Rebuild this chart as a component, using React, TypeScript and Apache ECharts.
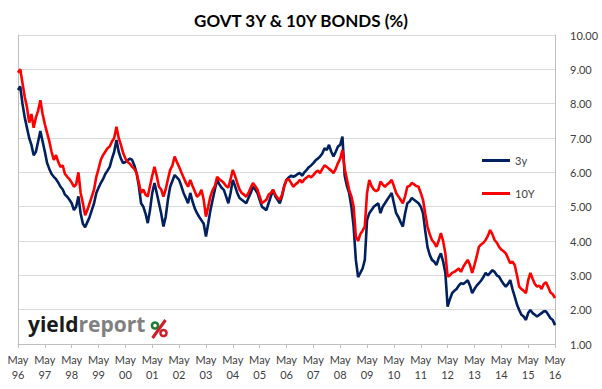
import React, { useEffect, useRef } from "react";
import * as echarts from "echarts";

// Monthly readings, May 1996 .. May 2016 (241 points)
const years = ["96","97","98","99","00","01","02","03","04","05","06","07","08","09","10","11","12","13","14","15","16"];
const monthNames = ["May","Jun","Jul","Aug","Sep","Oct","Nov","Dec","Jan","Feb","Mar","Apr"];

const tenYear: number[] = [
  // May96-Apr97
  8.9, 9.0, 8.6, 8.2, 7.9, 7.45, 7.7, 7.3, 7.6, 7.8, 8.1, 7.7,
  // 97-98
  7.4, 7.15, 6.9, 6.6, 6.36, 6.5, 6.3, 6.16, 6.2, 5.95, 5.87, 5.8,
  // 98-99
  5.7, 5.58, 5.65, 6.0, 5.4, 5.1, 4.75, 4.9, 5.1, 5.3, 5.5, 5.87,
  // 99-00
  6.1, 6.36, 6.5, 6.6, 6.7, 6.75, 6.9, 7.0, 7.33, 7.0, 6.8, 6.56,
  // 00-01
  6.4, 6.3, 6.25, 6.16, 6.1, 5.98, 5.7, 5.4, 5.5, 5.35, 5.3, 5.6,
  // 01-02
  5.9, 6.16, 5.9, 5.58, 5.5, 5.29, 5.5, 5.8, 6.07, 6.2, 6.46, 6.3,
  // 02-03
  6.16, 6.0, 5.85, 5.7, 5.58, 5.78, 5.6, 5.45, 5.29, 5.35, 5.49, 5.2,
  // 03-04
  4.71, 5.0, 5.3, 5.49, 5.6, 5.87, 5.8, 5.75, 5.69, 5.6, 5.55, 5.8,
  // 04-05
  6.07, 5.9, 5.69, 5.5, 5.4, 5.35, 5.29, 5.4, 5.55, 5.69, 5.6, 5.5,
  // 05-06
  5.3, 5.1, 5.15, 5.2, 5.35, 5.4, 5.49, 5.35, 5.25, 5.2, 5.35, 5.6,
  // 06-07
  5.78, 5.8, 5.7, 5.58, 5.65, 5.7, 5.78, 5.7, 5.8, 5.85, 5.9, 5.85,
  // 07-08
  5.92, 6.0, 6.05, 5.98, 6.1, 6.2, 6.16, 6.1, 6.05, 5.98, 6.1, 6.27,
  // 08-09
  6.4, 6.65, 6.1, 5.8, 5.49, 5.3, 5.0, 4.13, 4.0, 4.2, 4.3, 4.42,
  // 09-10
  5.4, 5.78, 5.6, 5.5, 5.45, 5.49, 5.73, 5.65, 5.58, 5.65, 5.7, 5.78,
  // 10-11
  5.6, 5.4, 5.3, 5.2, 5.1, 5.3, 5.58, 5.6, 5.69, 5.65, 5.6, 5.58,
  // 11-12
  5.4, 5.2, 4.8, 4.42, 4.2, 4.03, 3.95, 3.83, 4.0, 4.23, 4.0, 3.64,
  // 12-13
  2.96, 3.0, 3.07, 3.1, 3.15, 3.2, 3.1, 3.25, 3.35, 3.45, 3.3, 3.07,
  // 13-14
  3.3, 3.55, 3.83, 3.9, 3.95, 4.03, 4.15, 4.32, 4.2, 4.03, 3.95, 3.83,
  // 14-15
  3.75, 3.7, 3.64, 3.5, 3.35, 3.4, 3.3, 3.0, 2.67, 2.6, 2.55, 2.48,
  // 15-16
  2.85, 3.07, 2.9, 2.75, 2.67, 2.7, 2.6, 2.75, 2.8, 2.65, 2.5, 2.45, 2.34,
];

const threeYear: number[] = [
  8.4, 8.5, 8.0, 7.6, 7.3, 7.0, 6.8, 6.5, 6.6, 6.9, 7.2, 6.9,
  6.6, 6.27, 6.1, 5.95, 5.87, 5.8, 5.7, 5.58, 5.5, 5.35, 5.29, 5.2,
  5.1, 4.9, 5.0, 5.3, 4.8, 4.5, 4.4, 4.55, 4.7, 4.9, 5.1, 5.4,
  5.55, 5.69, 5.8, 5.95, 6.05, 6.16, 6.4, 6.6, 6.94, 6.6, 6.4, 6.27,
  6.3, 6.35, 6.4, 6.36, 6.2, 5.98, 5.6, 5.1, 5.0, 4.8, 4.52, 4.9,
  5.4, 5.69, 5.4, 5.1, 4.8, 4.42, 4.7, 5.2, 5.58, 5.75, 5.92, 5.85,
  5.78, 5.6, 5.4, 5.25, 5.1, 5.4, 5.15, 4.95, 4.81, 4.7, 4.6, 4.5,
  4.13, 4.5, 4.9, 5.2, 5.5, 5.78, 5.65, 5.55, 5.49, 5.3, 5.1, 5.4,
  5.78, 5.6, 5.4, 5.25, 5.2, 5.15, 5.1, 5.25, 5.4, 5.58, 5.5, 5.4,
  5.2, 5.0, 4.95, 4.9, 5.1, 5.3, 5.49, 5.3, 5.2, 5.1, 5.3, 5.6,
  5.78, 5.85, 5.9, 5.87, 5.9, 5.95, 5.98, 5.9, 6.0, 6.07, 6.15, 6.2,
  6.27, 6.35, 6.4, 6.46, 6.55, 6.7, 6.65, 6.8, 6.6, 6.46, 6.6, 6.75,
  6.8, 7.04, 5.9, 5.6, 5.4, 5.0, 4.42, 3.45, 2.95, 3.07, 3.2, 3.45,
  4.61, 4.81, 4.9, 5.0, 5.05, 5.1, 4.81, 5.0, 5.1, 5.2, 5.3, 5.4,
  5.1, 4.81, 4.7, 4.55, 4.42, 4.8, 5.1, 5.15, 5.25, 5.2, 5.15, 5.1,
  5.0, 4.81, 4.3, 3.83, 3.6, 3.45, 3.4, 3.3, 3.5, 3.64, 3.4, 3.07,
  2.09, 2.3, 2.48, 2.55, 2.6, 2.7, 2.77, 2.75, 2.8, 2.86, 2.7, 2.48,
  2.6, 2.7, 2.77, 2.85, 2.95, 3.07, 3.0, 3.07, 3.15, 3.1, 3.0, 2.96,
  2.85, 2.75, 2.67, 2.75, 2.86, 2.6, 2.38, 2.15, 1.99, 1.85, 1.8, 1.7,
  1.9, 1.99, 1.9, 1.85, 1.8, 1.85, 1.9, 1.95, 1.95, 1.85, 1.75, 1.7, 1.55,
];

const categories: string[] = [];
for (let y = 0; y < years.length; y++) {
  for (let k = 0; k < 12; k++) {
    if (y === years.length - 1 && k > 0) break;
    categories.push(monthNames[k] + " " + years[k < 8 ? y : y + 1 < years.length ? y + 1 : y]);
  }
}

const FONT = "Lato, 'Open Sans', sans-serif";
const LOGO_FONT = "'Open Sans', Lato, sans-serif";

export default function App() {
  const ref = useRef<HTMLDivElement>(null);
  useEffect(() => {
    if (!ref.current) return;
    const chart = echarts.init(ref.current, undefined, { renderer: "svg" });
    chart.setOption({
      animation: false,
      backgroundColor: "#ffffff",
      textStyle: { fontFamily: FONT },
      title: {
        text: "GOVT 3Y & 10Y BONDS (%)",
        left: "center",
        top: 7,
        textStyle: { fontFamily: FONT, fontSize: 17, fontWeight: "bold", color: "#000000" },
      },
      legend: {
        orient: "vertical",
        left: 482,
        top: 155,
        itemWidth: 28,
        itemHeight: 3,
        itemGap: 22,
        padding: 0,
        icon: "rect",
        textStyle: { fontFamily: FONT, fontSize: 11, color: "#404040" },
        data: ["3y", "10Y"],
      },
      grid: { left: 18, right: 47, top: 35, bottom: 45, containLabel: false },
      xAxis: {
        type: "category",
        data: categories,
        boundaryGap: false,
        axisLine: { lineStyle: { color: "#bfbfbf", width: 1 } },
        axisTick: { interval: 11, length: 4, lineStyle: { color: "#bfbfbf" } },
        axisLabel: {
          interval: 11,
          margin: 8,
          fontFamily: FONT,
          fontSize: 11,
          lineHeight: 15,
          color: "#404040",
          formatter: (v: string) => v.replace(" ", "\n"),
        },
        splitLine: { show: false },
      },
      yAxis: [
        {
          type: "value",
          position: "right",
          min: 1,
          max: 10,
          interval: 1,
          axisLine: { show: true, lineStyle: { color: "#bfbfbf" } },
          axisTick: { show: false },
          axisLabel: {
            margin: 15,
            fontFamily: FONT,
            fontSize: 11,
            color: "#404040",
            formatter: (v: number) => v.toFixed(2),
          },
          splitLine: { lineStyle: { color: "#d9d9d9", width: 1 } },
        },
        {
          type: "value",
          position: "left",
          min: 1,
          max: 10,
          interval: 1,
          axisLine: { show: true, lineStyle: { color: "#bfbfbf" } },
          axisTick: { show: false },
          axisLabel: { show: false },
          splitLine: { show: false },
        },
      ],
      series: [
        {
          name: "3y",
          type: "line",
          data: threeYear,
          yAxisIndex: 0,
          showSymbol: false,
          symbol: "none",
          lineStyle: { color: "#002060", width: 2.6 },
          itemStyle: { color: "#002060" },
        },
        {
          name: "10Y",
          type: "line",
          data: tenYear,
          yAxisIndex: 0,
          showSymbol: false,
          symbol: "none",
          lineStyle: { color: "#ff0000", width: 2.6 },
          itemStyle: { color: "#ff0000" },
        },
      ],
      graphic: [
        {
          type: "text",
          left: 28,
          top: 313,
          style: {
            text: "{a|yield}{b|report}",
            rich: {
              a: { fontFamily: LOGO_FONT, fontSize: 21, fontWeight: "bold", fill: "#1a1a1a" },
              b: { fontFamily: LOGO_FONT, fontSize: 21, fontWeight: "bold", fill: "#808080" },
            },
          },
        },
        {
          type: "ring",
          shape: { cx: 155, cy: 325.5, r: 4.3, r0: 1.8 },
          style: { fill: "#1e7b34" },
        },
        {
          type: "line",
          shape: { x1: 165.5, y1: 320, x2: 152.5, y2: 338 },
          style: { stroke: "#cc1f2d", lineWidth: 3 },
        },
        {
          type: "ring",
          shape: { cx: 163.5, cy: 333, r: 4.3, r0: 1.8 },
          style: { fill: "#cc1f2d" },
        },
      ],
    });
    return () => chart.dispose();
  }, []);
  return <div ref={ref} style={{ width: 602, height: 389, position: "absolute", left: 0, top: 0 }} />;
}
